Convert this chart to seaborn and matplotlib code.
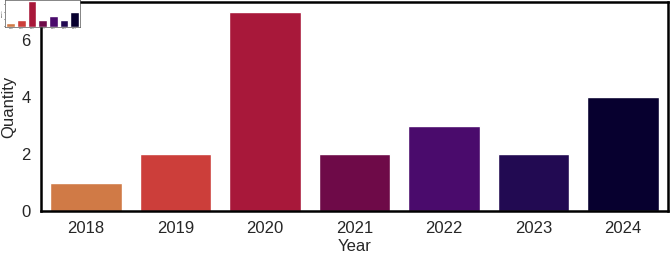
import matplotlib
matplotlib.use("Agg")
import matplotlib.pyplot as plt
import seaborn as sns
import pandas as pd

years = ["2018", "2019", "2020", "2021", "2022", "2023", "2024"]
quantities = [1, 2, 7, 2, 3, 2, 4]
colors = ["#d07a46", "#cc3e3a", "#a8183a", "#6e0a48", "#4a0b6c", "#220a52", "#07002f"]

df = pd.DataFrame({"Year": years, "Quantity": quantities})

sns.set_style("white")
plt.rcParams["font.family"] = ["Liberation Sans", "DejaVu Sans"]

fig = plt.figure(figsize=(6.72, 2.54), dpi=100)
ax = fig.add_axes([0.061, 0.169, 0.933, 0.823])
sns.barplot(data=df, x="Year", y="Quantity", hue="Year", palette=colors,
            legend=False, ax=ax, width=0.8, saturation=1)
ax.set_ylim(0, 7.35)
ax.set_yticks([0, 2, 4, 6])
ax.tick_params(axis="x", labelsize=12, length=0, pad=7)
ax.tick_params(axis="y", labelsize=12, length=0, pad=7.5)
ax.set_xlabel("Year", fontsize=12)
ax.set_ylabel("Quantity", fontsize=12)
ax.yaxis.set_label_coords(-0.04, 0.5)
ax.xaxis.set_label_coords(0.5, -0.135)
for s in ax.spines.values():
    s.set_linewidth(1.8)
    s.set_color("black")

# small thumbnail inset in the top-left corner
ins = fig.add_axes([0.008, 0.894, 0.111, 0.106])
sns.barplot(data=df, x="Year", y="Quantity", hue="Year", palette=colors,
            legend=False, ax=ins, width=0.8, saturation=1)
ins.set_ylim(0, 7.35)
ins.tick_params(axis="both", labelsize=1.5, length=0, pad=0.5)
ins.set_xlabel("")
ins.set_ylabel("Quantity", fontsize=1.5, labelpad=0.5)
for s in ins.spines.values():
    s.set_linewidth(0.5)
    s.set_color("#555555")

fig.savefig("out.png", dpi=100)
